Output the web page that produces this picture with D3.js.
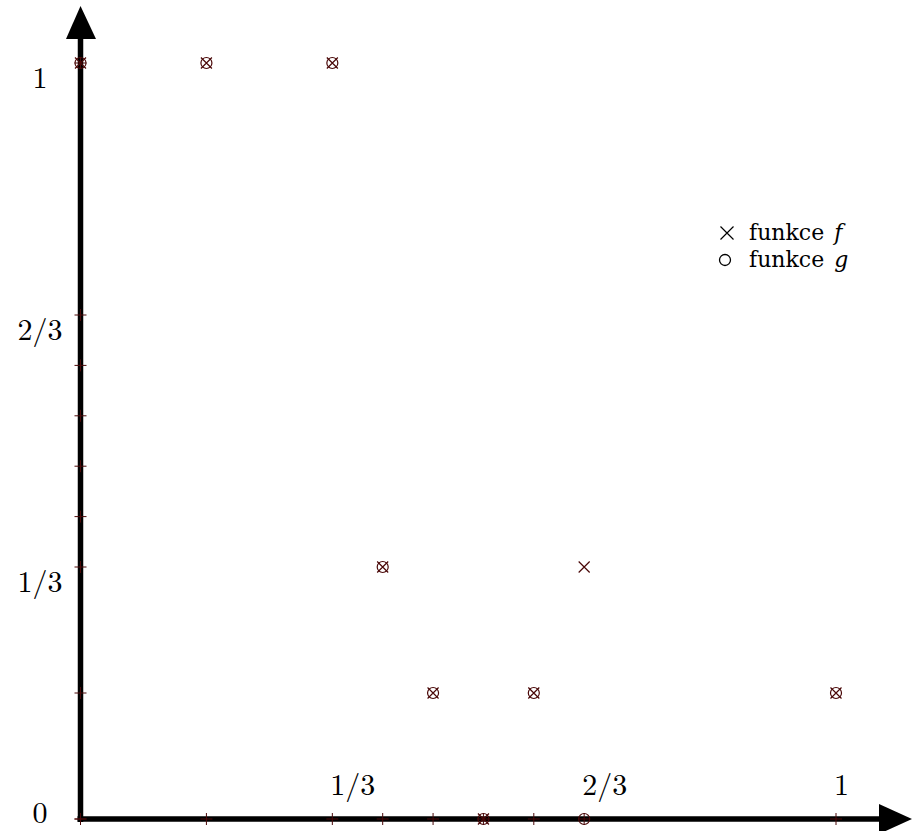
<!DOCTYPE html>
<html>
<head>
<meta charset="utf-8">
<script src="https://cdn.jsdelivr.net/npm/d3@7"></script>
<style>
  body { margin: 0; background: #fff; }
  text { font-family: "Latin Modern Roman", "CMU Serif", "Liberation Serif", "DejaVu Serif", serif; fill: #000; }
  .legend text { font-family: "DejaVu Serif", serif; }
</style>
</head>
<body>
<svg id="chart" width="913" height="831"></svg>
<script>
// points of both functions
var xValues = [0, 1/6, 1/3, 2/5, 7/15, 8/15, 3/5, 2/3, 1];
var fValues = [1, 1, 1, 1/3, 1/6, 0, 1/6, 1/3, 1/6];
var gValues = [1, 1, 1, 1/3, 1/6, 0, 1/6, 0, 1/6];

// little crosses on the axes
var xTicks = [0, 1/6, 1/3, 2/5, 7/15, 8/15, 3/5, 2/3, 1];
var yTicks = [0, 1/6, 1/3, 2/5, 7/15, 8/15, 3/5, 2/3, 1];

// labelled values
var xLabelValues = [1/3, 2/3, 1];
var xLabelTexts = ['1/3', '2/3', '1'];
var yLabelValues = [0, 1/3, 2/3, 1];
var yLabelTexts = ['0', '1/3', '2/3', '1'];

var legendNames = ['funkce', 'funkce'];
var legendVars = ['f', 'g'];

var markColor = '#4a0808';

var svg = d3.select('#chart');

var x = d3.scaleLinear().domain([0, 1]).range([80.5, 836]);
var y = d3.scaleLinear().domain([0, 1]).range([819, 63]);

// axes with arrows
svg.append('line')
    .attr('x1', x(0) - 3).attr('x2', 882)
    .attr('y1', y(0)).attr('y2', y(0))
    .attr('stroke', '#000').attr('stroke-width', 5.5);
svg.append('path')
    .attr('d', 'M879,804 L912,819 L879,834 Z')
    .attr('fill', '#000');
svg.append('line')
    .attr('x1', x(0)).attr('x2', x(0))
    .attr('y1', y(0) + 3).attr('y2', 36)
    .attr('stroke', '#000').attr('stroke-width', 5.5);
svg.append('path')
    .attr('d', 'M66,39 L80.5,6 L96,39 Z')
    .attr('fill', '#000');

// plus shaped ticks
function plus(g, cx, cy, r) {
    g.append('path')
        .attr('d', `M${cx - r},${cy} H${cx + r} M${cx},${cy - r} V${cy + r}`)
        .attr('stroke', markColor).attr('stroke-width', 1).attr('fill', 'none');
}
var ticks = svg.append('g');
xTicks.forEach(v => plus(ticks, x(v), y(0), 6));
yTicks.forEach(v => plus(ticks, x(0), y(v), 6));

// tick labels
svg.append('g').selectAll('text')
    .data(xLabelValues)
    .join('text')
    .attr('x', d => x(d) - 2)
    .attr('y', 795)
    .style('font-size', '30px')
    .text((d, i) => xLabelTexts[i]);

svg.append('g').selectAll('text')
    .data(yLabelValues)
    .join('text')
    .attr('x', 40)
    .attr('y', d => Math.min(y(d) + 25, y(0) + 4))
    .attr('text-anchor', 'middle')
    .style('font-size', '30px')
    .text((d, i) => yLabelTexts[i]);

// markers
function cross(g, cx, cy, r) {
    g.append('path')
        .attr('d', `M${cx - r},${cy - r} L${cx + r},${cy + r} M${cx - r},${cy + r} L${cx + r},${cy - r}`)
        .attr('stroke', markColor).attr('stroke-width', 1.2).attr('fill', 'none');
}
var fg = svg.append('g');
xValues.forEach((v, i) => cross(fg, x(v), y(fValues[i]), 5.5));

svg.append('g').selectAll('circle')
    .data(xValues)
    .join('circle')
    .attr('cx', d => x(d))
    .attr('cy', (d, i) => y(gValues[i]))
    .attr('r', 5.5)
    .attr('fill', 'none')
    .attr('stroke', markColor)
    .attr('stroke-width', 1.2);

// legend
var legend = svg.append('g').attr('class', 'legend');
cross(legend, 727, 233, 6.5);
legend.append('circle')
    .attr('cx', 725).attr('cy', 260).attr('r', 5.5)
    .attr('fill', 'none').attr('stroke', '#000').attr('stroke-width', 1.3);
legendNames.forEach(function (n, i) {
    var t = legend.append('text')
        .attr('x', 749)
        .attr('y', 240 + i * 27)
        .style('font-size', '22px');
    t.append('tspan').text(n);
    t.append('tspan').attr('dx', 10).style('font-style', 'italic').text(legendVars[i]);
});
legend.select('path').attr('stroke', '#000');
</script>
</body>
</html>
